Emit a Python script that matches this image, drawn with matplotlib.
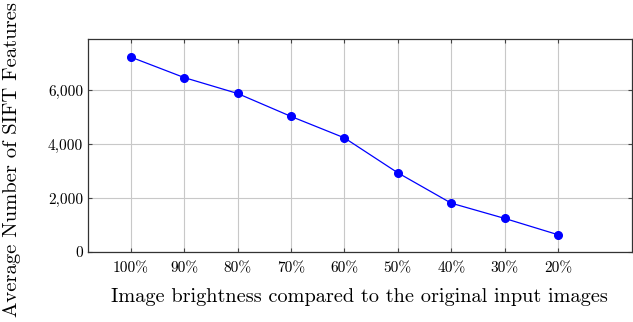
import matplotlib
matplotlib.use("Agg")
import matplotlib.pyplot as plt

plt.rcParams['font.family'] = 'serif'
plt.rcParams['font.serif'] = ['cmr10', 'DejaVu Serif']
plt.rcParams['axes.formatter.use_mathtext'] = True

brightness = ["100%", "90%", "80%", "70%", "60%", "50%", "40%", "30%", "20%"]
avg_features = [7230, 6470, 5880, 5030, 4235, 2940, 1815, 1250, 645]
y_ticks = [0, 2000, 4000, 6000]
y_labels = ["0", "2,000", "4,000", "6,000"]

fig = plt.figure(figsize=(6.33, 3.22), dpi=100)
ax = fig.add_axes([0.139, 0.217, 0.859, 0.662])

x = list(range(len(brightness)))
ax.plot(x, avg_features, color="blue", lw=0.9, marker="o", ms=5.5, zorder=3)

ax.set_xlim(-0.8, 8.38 + 1)
ax.set_ylim(0, 7900)
ax.set_xticks(x)
ax.set_xticklabels(brightness, fontsize=11)
ax.set_yticks(y_ticks)
ax.set_yticklabels(y_labels, fontsize=11)
ax.grid(True, color="#c8c8c8", lw=0.8)
ax.set_axisbelow(True)
ax.tick_params(direction="in", top=True, right=True, length=3, color="#444444")
ax.tick_params(axis="x", pad=7)
for s in ax.spines.values():
    s.set_linewidth(0.9)
    s.set_color("#333333")

ax.set_xlabel("Image brightness compared to the original input images", fontsize=14.6, labelpad=9)
ax.set_ylabel("Average Number of SIFT Features", fontsize=14.8, va="center")
ax.yaxis.set_label_coords(-0.14, 0.435)

fig.savefig("out.png", dpi=100)
